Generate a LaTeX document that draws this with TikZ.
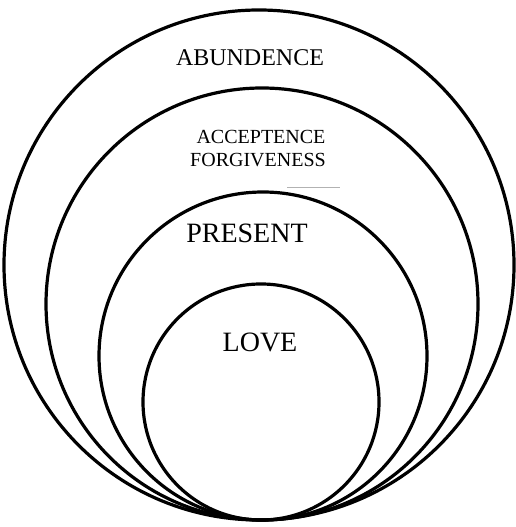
\documentclass[tikz,border=0pt]{standalone}
\usepackage{fontspec}
\setmainfont{Liberation Serif}

\begin{document}
\begin{tikzpicture}[
    x=1pt, y=1pt,
    ring/.style={circle, draw, line width=3.2pt, inner sep=0pt},
    word/.style={inner sep=0pt, align=center},
]
    \useasboundingbox (0,0) rectangle (516,527);

    \node[ring, minimum size=510pt] (abundence) at (259,262) {};
    \node[ring, minimum size=432pt] (accept) at (262,223) {};
    \node[ring, minimum size=328pt] (present) at (263,171) {};
    \node[ring, minimum size=236pt] (love) at (261,125) {};

    \node[word, font=\fontsize{24}{26}\selectfont] (t1) at (250,469) {ABUNDENCE};
    \node[word, font=\fontsize{20}{22}\selectfont] (t2) at (261,390) {ACCEPTENCE};
    \node[word, font=\fontsize{20}{22}\selectfont] (t3) at (258,367) {FORGIVENESS};
    \node[word, font=\fontsize{28}{30}\selectfont] (t4) at (247,294) {PRESENT};
    \node[word, font=\fontsize{28}{30}\selectfont] (t5) at (260,185) {LOVE};

    % faint stroke under the second label
    \draw[gray!60, line width=0.8pt] (287,340) -- (340,340);

\end{tikzpicture}
\end{document}
